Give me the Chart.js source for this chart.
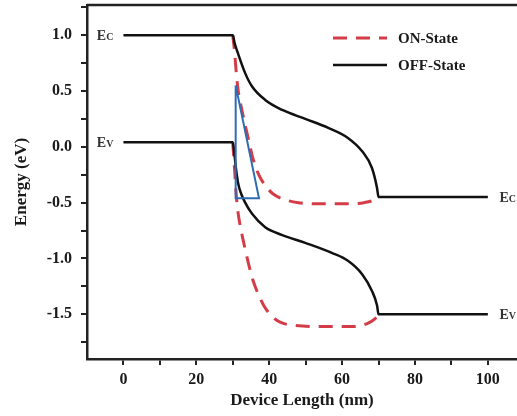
<!DOCTYPE html>
<html><head><meta charset="utf-8">
<script src="https://cdn.jsdelivr.net/npm/chart.js@4"></script>
<style>html,body{margin:0;padding:0;background:#fff}#wrap{width:517px;height:416px}</style>
</head><body><div id="wrap"><canvas id="c" width="517" height="416"></canvas></div>
<script>
// ---- data ----
const offEcX = [0, 30, 30.5, 31.5, 33.4, 35.3, 38.9, 43.6, 49.9, 56.2, 61.6, 65.5, 68.2, 69.6, 70, 100];
const offEcY = [1.0, 1.0, 0.93, 0.83, 0.66, 0.54, 0.42, 0.33, 0.25, 0.17, 0.08, -0.04, -0.19, -0.37, -0.45, -0.45];
const offEvX = [0, 30, 30.4, 30.9, 31.5, 32.3, 33.4, 35.3, 38.9, 43.6, 49.9, 57.2, 61.6, 65.5, 68.2, 69.6, 70, 100];
const offEvY = [0.04, 0.04, -0.05, -0.2, -0.33, -0.42, -0.5, -0.6, -0.72, -0.79, -0.86, -0.95, -1.02, -1.14, -1.29, -1.42, -1.5, -1.5];
const onEcX = [30, 30.5, 31, 31.5, 32.5, 33.5, 34.5, 35.5, 37, 39, 41, 44, 48, 55, 62, 66, 68.5, 70];
const onEcY = [1.0, 0.85, 0.65, 0.5, 0.33, 0.18, 0.04, -0.1, -0.24, -0.35, -0.42, -0.47, -0.5, -0.51, -0.51, -0.5, -0.48, -0.45];
const onEvX = [30, 30.5, 31, 31.5, 32.5, 33.5, 34.5, 35.5, 37, 38.5, 40.5, 43, 47, 55, 63, 67, 69, 70];
const onEvY = [0.04, -0.2, -0.45, -0.6, -0.78, -0.93, -1.07, -1.19, -1.32, -1.42, -1.51, -1.57, -1.6, -1.61, -1.61, -1.58, -1.54, -1.5];
const triX = [30.8, 30.8, 37.2, 30.8];
const triY = [0.55, -0.46, -0.46, 0.55];
const seriesNames = ['ON-State', 'OFF-State'];
const bandLabels = [
  {main: 'E', sub: 'C', x: -7.3, y: 1.0},
  {main: 'E', sub: 'V', x: -7.3, y: 0.04},
  {main: 'E', sub: 'C', x: 103.2, y: -0.45},
  {main: 'E', sub: 'V', x: 103.2, y: -1.5}
];
const xTitle = 'Device Length (nm)';
const yTitle = 'Energy (eV)';

const pts = (xs, ys) => xs.map((x, i) => ({x: x, y: ys[i]}));
const RED = '#d43d47', BLACK = '#111111', BLUE = '#2f6cb3';
const SERIF = "'Liberation Serif', 'DejaVu Serif', serif";

const datasets = [
  {label: 'tri', data: pts(triX, triY), borderColor: BLUE, borderWidth: 2, tension: 0},
  {label: seriesNames[1], data: pts(offEcX, offEcY), borderColor: BLACK, borderWidth: 2.5},
  {label: seriesNames[1] + ' Ev', data: pts(offEvX, offEvY), borderColor: BLACK, borderWidth: 2.5},
  {label: seriesNames[0], data: pts(onEcX, onEcY), borderColor: RED, borderWidth: 3, borderDash: [14, 9]},
  {label: seriesNames[0] + ' Ev', data: pts(onEvX, onEvY), borderColor: RED, borderWidth: 3, borderDash: [14, 9]}
];
datasets.forEach(d => { d.pointRadius = 0; d.fill = false; if (d.label !== 'tri') d.cubicInterpolationMode = 'monotone'; });

const decor = {
  id: 'decor',
  afterDraw(chart) {
    const ctx = chart.ctx, a = chart.chartArea;
    const xs = chart.scales.x, ys = chart.scales.y;
    ctx.save();
    // top frame line
    ctx.strokeStyle = '#222'; ctx.lineWidth = 2.5;
    ctx.beginPath(); ctx.moveTo(a.left, a.top); ctx.lineTo(a.right, a.top); ctx.stroke();
    // legend
    const leg = [{ds: datasets[3], name: seriesNames[0], y: 38}, {ds: datasets[1], name: seriesNames[1], y: 65}];
    leg.forEach(l => {
      ctx.strokeStyle = l.ds.borderColor; ctx.lineWidth = l.ds.borderWidth;
      ctx.setLineDash(l.ds.borderDash || []);
      ctx.beginPath(); ctx.moveTo(333, l.y); ctx.lineTo(387, l.y); ctx.stroke();
      ctx.setLineDash([]);
      ctx.fillStyle = '#1a1a1a'; ctx.font = 'bold 15px ' + SERIF;
      ctx.textBaseline = 'middle'; ctx.textAlign = 'left';
      ctx.fillText(l.name, 398, l.y + 1);
    });
    // band labels
    bandLabels.forEach(b => {
      const px = xs.getPixelForValue(b.x), py = ys.getPixelForValue(b.y);
      ctx.fillStyle = '#333'; ctx.textBaseline = 'alphabetic'; ctx.textAlign = 'left';
      ctx.font = 'bold 14px ' + SERIF;
      ctx.fillText(b.main, px, py + 5);
      const w = ctx.measureText(b.main).width;
      ctx.font = 'bold 10px ' + SERIF;
      ctx.fillText(b.sub, px + w, py + 5);
    });
    ctx.restore();
  }
};

new Chart(document.getElementById('c'), {
  type: 'line',
  data: {datasets: datasets},
  plugins: [decor],
  options: {
    responsive: false, animation: false, devicePixelRatio: 1,
    layout: {padding: {top: 5, right: 0, left: 0, bottom: 0}},
    plugins: {legend: {display: false}, tooltip: {enabled: false}},
    scales: {
      x: {
        type: 'linear', min: -10, max: 108,
        afterFit: s => { s.height = 57; s.paddingLeft = 0; s.paddingRight = 0; },
        afterBuildTicks: s => { s.ticks = s.ticks.filter(t => Math.abs(t.value % 10) < 1e-6 && t.value >= 0 && t.value <= 100); },
        ticks: {stepSize: 10, includeBounds: false, autoSkip: false, maxRotation: 0, padding: 5, color: '#1a1a1a',
          font: {family: SERIF, size: 16, weight: 'bold'},
          callback: v => (Math.abs(v % 20) < 1e-6 ? String(v) : '')},
        grid: {drawOnChartArea: false, drawTicks: true, tickLength: 6, color: '#222', lineWidth: 2},
        border: {display: true, color: '#222', width: 2.5},
        title: {display: true, text: xTitle, color: '#1a1a1a', padding: {top: 0, bottom: 5},
          font: {family: SERIF, size: 17, weight: 'bold'}}
      },
      y: {
        type: 'linear', min: -1.9, max: 1.27,
        afterFit: s => { s.width = 87; s.paddingTop = 0; s.paddingBottom = 0; },
        afterBuildTicks: s => { s.ticks = s.ticks.filter(t => Math.abs(t.value * 4 - Math.round(t.value * 4)) < 1e-6); },
        ticks: {stepSize: 0.25, includeBounds: false, autoSkip: false, padding: 9, color: '#1a1a1a',
          font: {family: SERIF, size: 16, weight: 'bold'},
          callback: v => (Math.abs(v * 2 - Math.round(v * 2)) < 1e-6 ? v.toFixed(1) : '')},
        grid: {drawOnChartArea: false, drawTicks: true, tickLength: 6, color: '#222', lineWidth: 2},
        border: {display: true, color: '#222', width: 2.5},
        title: {display: true, text: yTitle, color: '#1a1a1a', padding: {top: 11, bottom: 0},
          font: {family: SERIF, size: 17, weight: 'bold'}}
      }
    }
  }
});
</script></body></html>
